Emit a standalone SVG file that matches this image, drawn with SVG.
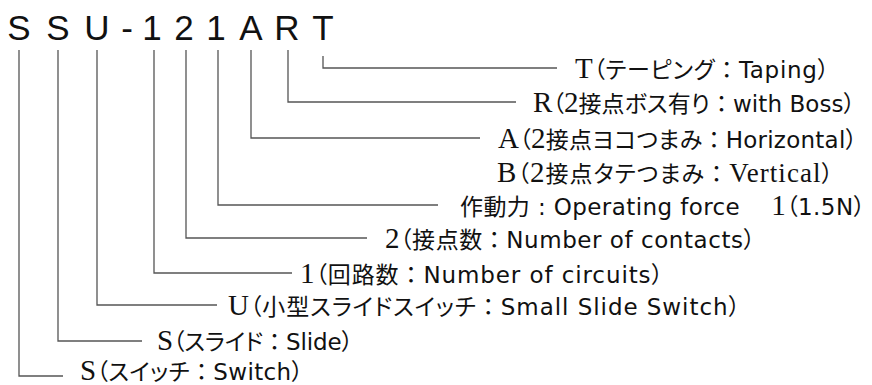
<svg xmlns="http://www.w3.org/2000/svg" width="872" height="385" viewBox="0 0 872 385">
<style>
.t{font-family:"Liberation Sans","Noto Sans CJK JP",sans-serif;font-size:35px;fill:#111;text-anchor:middle}
.l{font-family:"Liberation Serif","Noto Sans CJK JP",serif;font-size:29px;fill:#111}
.a{font-family:"DejaVu Sans","Noto Sans CJK JP",sans-serif;font-size:23px}
.j{font-family:"Noto Sans CJK JP",sans-serif;font-size:23px;font-feature-settings:"palt"}
.k{font-family:"Noto Sans CJK JP",sans-serif;font-size:23px}
.c{fill:none;stroke:#555;stroke-width:1.3}
</style>
<rect width="872" height="385" fill="#fff"/>
<g id="title">
<text class="t" x="19" y="40">S</text>
<text class="t" x="58" y="40">S</text>
<text class="t" x="97" y="40">U</text>
<text class="t" x="127" y="40">-</text>
<text class="t" x="152" y="40">1</text>
<text class="t" x="184" y="40">2</text>
<text class="t" x="216" y="40">1</text>
<text class="t" x="251" y="40">A</text>
<text class="t" x="287" y="40">R</text>
<text class="t" x="323" y="40">T</text>
</g>
<g id="connectors">
<path class="c" d="M323 56V68H557"/>
<path class="c" d="M288 50V102H516"/>
<path class="c" d="M251 50V138H480"/>
<path class="c" d="M218 50V205H438"/>
<path class="c" d="M186 50V238H367"/>
<path class="c" d="M154 50V273H292"/>
<path class="c" d="M97 50V305H217"/>
<path class="c" d="M58 50V341H142"/>
<path class="c" d="M19 50V376H63"/>
</g>
<g id="n-t"><text class="l" x="575" y="77.5" textLength="254" lengthAdjust="spacing">T<tspan class="j">（テーピング</tspan><tspan class="k">：</tspan><tspan class="a">Taping</tspan><tspan class="j">）</tspan></text></g>
<g id="n-r"><text class="l" x="533" y="111.5" textLength="322" lengthAdjust="spacing">R<tspan class="j">（</tspan>2<tspan class="j">接点ボス有り</tspan><tspan class="k">：</tspan><tspan class="a">with Boss</tspan><tspan class="j">）</tspan></text></g>
<g id="n-a"><text class="l" x="498" y="147.5" textLength="359" lengthAdjust="spacing">A<tspan class="j">（</tspan>2<tspan class="j">接点ヨコつまみ</tspan><tspan class="k">：</tspan><tspan class="a">Horizontal</tspan><tspan class="j">）</tspan></text></g>
<g id="n-b"><text class="l" x="497" y="182" textLength="336" lengthAdjust="spacing">B<tspan class="j">（</tspan>2<tspan class="j">接点タテつまみ</tspan><tspan class="k">：</tspan><tspan font-size="27">Vertical</tspan><tspan class="j">）</tspan></text></g>
<g id="n-f"><text class="l" x="460" y="214.5" textLength="405" lengthAdjust="spacing"><tspan class="j">作動力</tspan><tspan class="a"> : Operating force </tspan><tspan class="k">　</tspan>1<tspan class="j">（</tspan><tspan class="a">1.5N</tspan><tspan class="j">）</tspan></text></g>
<g id="n-2"><text class="l" x="385" y="247.5" textLength="370" lengthAdjust="spacing">2<tspan class="j">（接点数</tspan><tspan class="k">：</tspan><tspan class="a">Number of contacts</tspan><tspan class="j">）</tspan></text></g>
<g id="n-1"><text class="l" x="300" y="282.5" textLength="363" lengthAdjust="spacing">1<tspan class="j">（回路数</tspan><tspan class="k">：</tspan><tspan class="a">Number of circuits</tspan><tspan class="j">）</tspan></text></g>
<g id="n-u"><text class="l" x="228" y="314.5" textLength="512" lengthAdjust="spacing">U<tspan class="j">（小型スライドスイッチ</tspan><tspan class="k">：</tspan><tspan class="a">Small Slide Switch</tspan><tspan class="j">）</tspan></text></g>
<g id="n-s2"><text class="l" x="157" y="350" textLength="196" lengthAdjust="spacing">S<tspan class="j">（スライド</tspan><tspan class="k">：</tspan><tspan class="a">Slide</tspan><tspan class="j">）</tspan></text></g>
<g id="n-s1"><text class="l" x="80" y="379.5" textLength="223" lengthAdjust="spacing">S<tspan class="j">（スイッチ</tspan><tspan class="k">：</tspan><tspan class="a">Switch</tspan><tspan class="j">）</tspan></text></g>
</svg>
